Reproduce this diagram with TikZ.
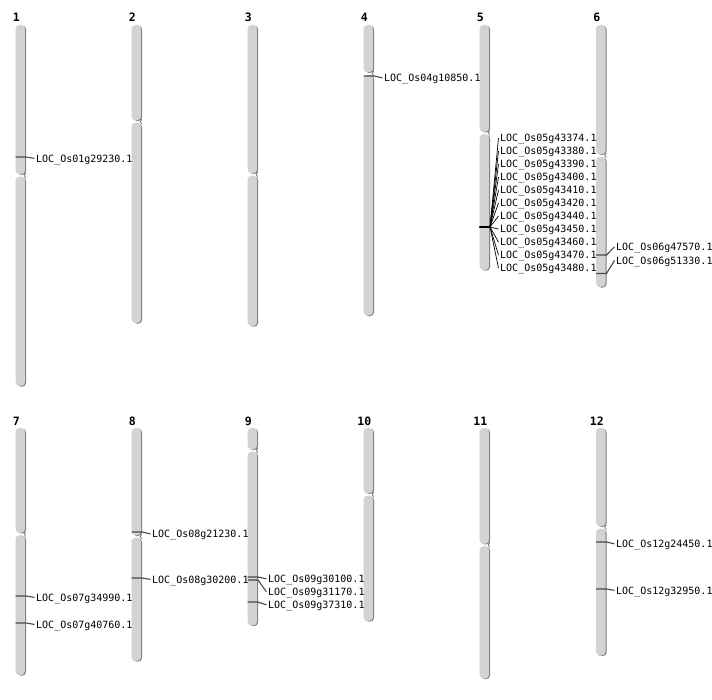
\documentclass[tikz,border=0pt]{standalone}
\usepackage{fontspec}
\newfontfamily\lblfont{DejaVu Sans Mono}
\definecolor{chrbody}{HTML}{D3D3D3}
\definecolor{chrshade}{HTML}{7A7A7A}
\definecolor{markc}{HTML}{4A4A4A}
\tikzset{
  lbl/.style={font=\lblfont\fontsize{10}{12}\selectfont, anchor=west, inner sep=0pt, text height=7.3pt, text depth=0pt, yshift=-0.9pt},
  chrnum/.style={font=\lblfont\bfseries\fontsize{11.5}{13}\selectfont, anchor=base, inner sep=0pt},
  mk/.style={draw=markc, line width=1.1pt},
  fan/.style={draw=black, line width=0.7pt},
}
\newcommand\chrarm[3]{%
  \fill[chrshade, rounded corners=4pt] ({#1+1.3},{(#2)+0.6}) rectangle ({#1+10.6},{(#3)+0.6});
  \fill[chrbody, rounded corners=4pt] (#1,#2) rectangle ({#1+9.6},#3);
}
\newcommand\chromo[5]{% number, xleft, top, centromere, bottom
  \chrarm{#2}{#3}{#4-1.2}
  \chrarm{#2}{#4+1.2}{#5}
  \draw[chrshade, line width=0.8pt] ({#2+10.4},{#4-2.2}) -- ({#2+8.6},#4) -- ({#2+10.4},{#4+2.2});
  \node[chrnum] (n#1) at ({#2+0.75},{#3-3}) {#1};
}
\newcommand\mrk[7]{% style, id, xleft, marker y, label x, label y, text
  \coordinate (#2a) at (#3,#4);
  \coordinate (#2b) at ({#3+10.5},#4);
  \node[lbl] (#2) at (#5,#6) {#7};
  \draw[#1] (#2a) -- (#2b) -- ([xshift=-1.5pt]#2.west);
}
\begin{document}
\begin{tikzpicture}[x=1pt,y=-1pt]
\useasboundingbox[fill=white] (0,0) rectangle (712,700);
% row 1
\chromo{1}{15.5}{25}{175.5}{386}
\chromo{2}{131.5}{25}{121.5}{323}
\chromo{3}{247.5}{25}{174.5}{326}
\chromo{4}{363.5}{25}{73.5}{315.5}
\chromo{5}{479.5}{25}{133}{270}
\chromo{6}{596}{25}{155.5}{287}
% row 2
\chromo{7}{15.5}{428}{534}{675}
\chromo{8}{131.5}{428}{536.5}{661}
\chromo{9}{247.5}{428}{450.5}{625.5}
\chromo{10}{363.5}{428}{494.5}{621}
\chromo{11}{479.5}{428}{545}{678.5}
\chromo{12}{596}{428}{527.5}{655.5}
% markers
\mrk{mk}{g1a}{15.5}{157}{36}{157.5}{LOC\_Os01g29230.1}
\mrk{mk}{g4a}{363.5}{76}{384}{77}{LOC\_Os04g10850.1}
\mrk{fan}{g5a}{479.5}{227}{500}{137.2}{LOC\_Os05g43374.1}
\mrk{fan}{g5b}{479.5}{227}{500}{150.2}{LOC\_Os05g43380.1}
\mrk{fan}{g5c}{479.5}{227}{500}{163.2}{LOC\_Os05g43390.1}
\mrk{fan}{g5d}{479.5}{227}{500}{176.2}{LOC\_Os05g43400.1}
\mrk{fan}{g5e}{479.5}{227}{500}{189.2}{LOC\_Os05g43410.1}
\mrk{fan}{g5f}{479.5}{227}{500}{202.2}{LOC\_Os05g43420.1}
\mrk{fan}{g5g}{479.5}{227}{500}{215.2}{LOC\_Os05g43440.1}
\mrk{fan}{g5h}{479.5}{227}{500}{228.2}{LOC\_Os05g43450.1}
\mrk{fan}{g5i}{479.5}{227}{500}{241.2}{LOC\_Os05g43460.1}
\mrk{fan}{g5j}{479.5}{227}{500}{254.2}{LOC\_Os05g43470.1}
\mrk{fan}{g5k}{479.5}{227}{500}{267.2}{LOC\_Os05g43480.1}
\draw[black, line width=2.5pt] (g5aa) -- (g5ab);
\mrk{mk}{g6a}{596}{255}{616}{246}{LOC\_Os06g47570.1}
\mrk{mk}{g6b}{596}{273.5}{616}{259.5}{LOC\_Os06g51330.1}
\mrk{mk}{g7a}{15.5}{596}{36}{596.5}{LOC\_Os07g34990.1}
\mrk{mk}{g7b}{15.5}{623}{36}{623.5}{LOC\_Os07g40760.1}
\mrk{mk}{g8a}{131.5}{532}{152}{533}{LOC\_Os08g21230.1}
\mrk{mk}{g8b}{131.5}{578}{152}{578.5}{LOC\_Os08g30200.1}
\mrk{mk}{g9a}{247.5}{577}{268}{578}{LOC\_Os09g30100.1}
\mrk{mk}{g9b}{247.5}{580}{268}{591}{LOC\_Os09g31170.1}
\mrk{mk}{g9c}{247.5}{602}{268}{604}{LOC\_Os09g37310.1}
\mrk{mk}{g12a}{596}{542}{616}{543}{LOC\_Os12g24450.1}
\mrk{mk}{g12b}{596}{589}{616}{589.5}{LOC\_Os12g32950.1}
\end{tikzpicture}
\end{document}
